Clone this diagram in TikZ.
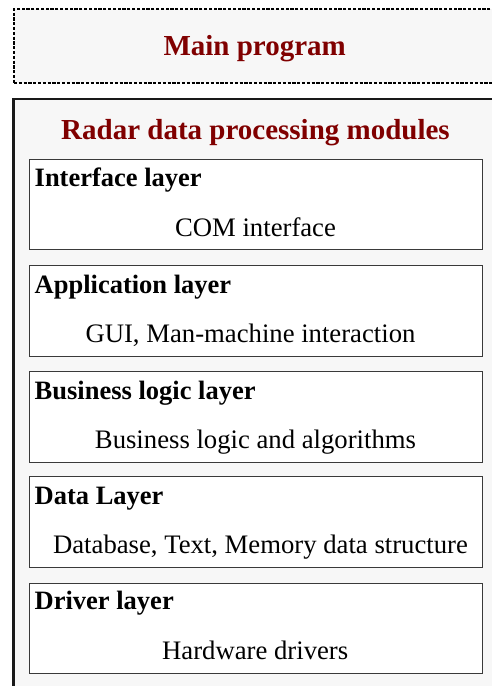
\documentclass[tikz,border=0pt]{standalone}
\usepackage{fontspec}
\setmainfont{Liberation Serif}
\definecolor{hdred}{HTML}{800000}
\definecolor{panel}{HTML}{F7F7F7}
\definecolor{boxline}{HTML}{3A3A3A}
\begin{document}
\begin{tikzpicture}[x=1pt,y=-1pt,
  layerbox/.style={draw=boxline,line width=1pt,fill=white,minimum width=452.7pt,minimum height=90.5pt,inner sep=0pt,outer sep=0pt},
  headtext/.style={text=hdred,font=\fontsize{29}{33}\selectfont\bfseries,inner sep=0pt,anchor=base},
  titletext/.style={font=\fontsize{26.5}{30}\selectfont\bfseries,inner sep=0pt,anchor=base west},
  bodytext/.style={font=\fontsize{26.7}{30}\selectfont,inner sep=0pt,anchor=base},
]
\useasboundingbox (0,0) rectangle (492,686);
\clip (0,0) rectangle (492,686);
\fill[white] (0,0) rectangle (492,686);
% main program (dashed)
\node[draw=black,fill=panel,dash pattern=on 3.2pt off 1.6pt,line width=1.3pt,minimum width=506pt,minimum height=74pt,inner sep=0pt] (mainbox) at (267,46) {};
\node[headtext] (maintxt) at (254.7,55) {Main program};
% radar modules outer
\node[draw=black!90,fill=panel,line width=2.2pt,minimum width=506.5pt,minimum height=621.3pt,inner sep=0pt] (radarbox) at (266.75,409.35) {};
\node[headtext] (radartxt) at (255.5,139.3) {Radar data processing modules};
% layers
\node[layerbox] (l1) at (255.65,204.5) {};
\node[titletext] (l1t) at (34.5,186.8) {Interface layer};
\node[bodytext] (l1b) at (255.5,236.5) {COM interface};

\node[layerbox] (l2) at (255.65,310.9) {};
\node[titletext] (l2t) at (34.5,293.2) {Application layer};
\node[bodytext] (l2b) at (250.5,342.8) {GUI, Man-machine interaction};

\node[layerbox] (l3) at (255.65,416.9) {};
\node[titletext] (l3t) at (34.5,399.2) {Business logic layer};
\node[bodytext] (l3b) at (255.5,448.7) {Business logic and algorithms};

\node[layerbox] (l4) at (255.65,521.9) {};
\node[titletext] (l4t) at (34.5,504.2) {Data Layer};
\node[bodytext] (l4b) at (260.5,553.5) {Database, Text, Memory data structure};

\node[layerbox] (l5) at (255.65,628.5) {};
\node[titletext] (l5t) at (34.5,609.8) {Driver layer};
\node[bodytext] (l5b) at (255.2,659.5) {Hardware drivers};
\end{tikzpicture}
\end{document}
